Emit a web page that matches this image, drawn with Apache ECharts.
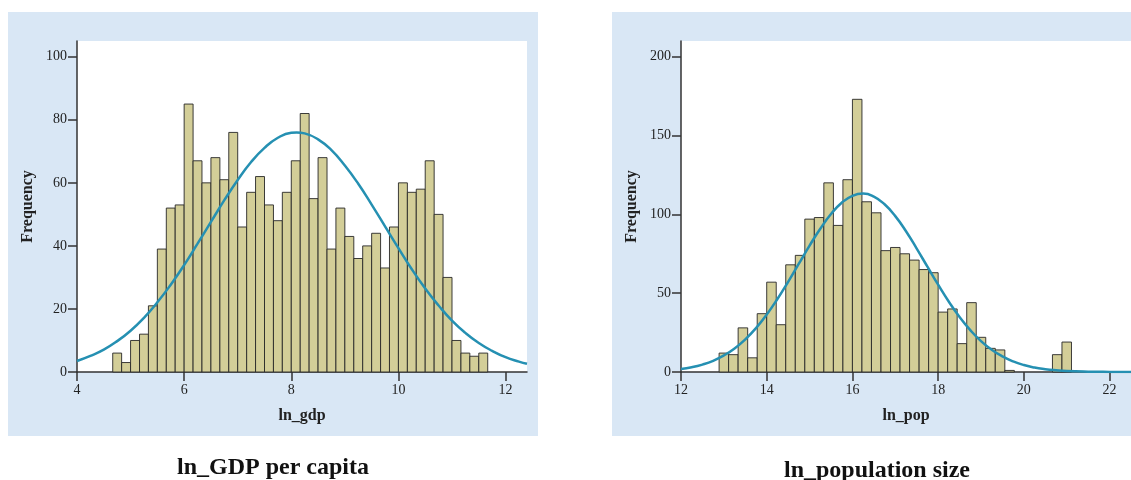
<!DOCTYPE html>
<html>
<head>
<meta charset="utf-8">
<script src="https://cdn.jsdelivr.net/npm/echarts@6/dist/echarts.min.js"></script>
<style>
  html, body { margin: 0; padding: 0; background: #ffffff; overflow: hidden; }
  #chart { width: 1131px; height: 480px; }
</style>
</head>
<body>
<div id="chart"></div>
<script>
// ---------- DATA ----------
// ln_gdp histogram: bin edges and counts
const gdpEdges = [4.667, 4.833, 5.000, 5.167, 5.333, 5.500, 5.667, 5.833, 6.000, 6.167,
  6.333, 6.500, 6.667, 6.833, 7.000, 7.167, 7.333, 7.500, 7.667, 7.833,
  8.000, 8.167, 8.333, 8.500, 8.667, 8.833, 9.000, 9.167, 9.333, 9.500,
  9.667, 9.833, 10.000, 10.167, 10.333, 10.500, 10.667, 10.833, 11.000, 11.167,
  11.333, 11.500, 11.667];
const gdpCounts = [6, 3, 10, 12, 21, 39, 52, 53, 85, 67,
  60, 68, 61, 76, 46, 57, 62, 53, 48, 57,
  67, 82, 55, 68, 39, 52, 43, 36, 40, 44,
  33, 46, 60, 57, 58, 67, 50, 30, 10, 6,
  5, 6];
// ln_gdp fitted curve
const gdpCurveX = [4, 4.25, 4.5, 4.75, 5, 5.25, 5.5, 5.75, 6, 6.25, 6.5, 6.75, 7, 7.25, 7.5, 7.75,
  8, 8.1, 8.25, 8.5, 8.75, 9, 9.25, 9.5, 9.75, 10, 10.25, 10.5, 10.75, 11, 11.25, 11.5, 11.75, 12, 12.25, 12.4];
const gdpCurveY = [3.5, 5.1, 7.1, 9.8, 13.1, 17.2, 22.1, 27.7, 33.9, 40.7, 47.6, 54.5, 60.9, 66.6, 71.1, 74.3,
  75.9, 76.0, 75.7, 73.8, 70.4, 65.5, 59.7, 53.1, 46.2, 39.3, 32.6, 26.5, 21.1, 16.3, 12.4, 9.2, 6.7, 4.7, 3.3, 2.6];

// ln_pop histogram: bin edges and counts
const popEdges = [12.889, 13.111, 13.333, 13.556, 13.778, 14.000, 14.222, 14.444, 14.667, 14.889,
  15.111, 15.333, 15.556, 15.778, 16.000, 16.222, 16.444, 16.667, 16.889, 17.111,
  17.333, 17.556, 17.778, 18.000, 18.222, 18.444, 18.667, 18.889, 19.111, 19.333,
  19.556, 19.778, 20.000, 20.222, 20.444, 20.667, 20.889, 21.111];
const popCounts = [12, 11, 28, 9, 37, 57, 30, 68, 74, 97,
  98, 120, 93, 122, 173, 108, 101, 77, 79, 75,
  71, 65, 63, 38, 40, 18, 44, 22, 15, 14,
  1, 0, 0, 0, 0, 11, 19];
// ln_pop fitted curve
const popCurveX = [12, 12.25, 12.5, 12.75, 13, 13.25, 13.5, 13.75, 14, 14.25, 14.5, 14.75, 15, 15.25,
  15.5, 15.75, 16, 16.25, 16.5, 16.75, 17, 17.25, 17.5, 17.75, 18, 18.25, 18.5, 18.75, 19, 19.25,
  19.5, 19.75, 20, 20.25, 20.5, 20.75, 21, 21.5, 22, 22.6];
const popCurveY = [1.9, 3.0, 4.7, 7.1, 10.5, 14.9, 20.7, 27.8, 36.4, 46.3, 57.2, 68.7, 80.2, 90.9,
  100.2, 107.4, 111.8, 113.2, 111.3, 106.4, 98.9, 89.3, 78.3, 66.8, 55.4, 44.6, 34.9, 26.6, 19.6, 14.1,
  9.9, 6.7, 4.4, 2.8, 1.8, 1.1, 0.6, 0.2, 0.06, 0.01];

// Text
const panelTitles = ['ln_GDP per capita', 'ln_population size'];
const xNames = ['ln_gdp', 'ln_pop'];
const yName = 'Frequency';

// ---------- BUILD ----------
const SERIF = "'Liberation Serif', 'Times New Roman', serif";
const BAR_FILL = '#D3CE98';
const BAR_STROKE = 'rgba(40,40,40,0.9)';
const CURVE = '#2590B2';
const PANEL = '#D9E7F5';
const AXIS = '#333333';

function histData(edges, counts) {
  return counts.map((c, i) => [edges[i], edges[i + 1], c]);
}
function pairs(xs, ys) { return xs.map((x, i) => [x, ys[i]]); }

function renderHist(params, api) {
  const v = api.value(2);
  if (!(v > 0)) return null;
  const p0 = api.coord([api.value(0), 0]);
  const p1 = api.coord([api.value(1), v]);
  return {
    type: 'rect',
    shape: { x: p0[0], y: p1[1], width: p1[0] - p0[0], height: p0[1] - p1[1] },
    style: { fill: BAR_FILL, stroke: BAR_STROKE, lineWidth: 1 }
  };
}

function xAxisCfg(gridIndex, min, max, name) {
  return {
    type: 'value', gridIndex, min, max, interval: 2,
    name, nameLocation: 'middle', nameGap: 36,
    nameTextStyle: { fontFamily: SERIF, fontWeight: 'bold', fontSize: 16, color: '#222' },
    axisLine: { show: true, onZero: false, lineStyle: { color: AXIS, width: 1.5 } },
    axisTick: { show: true, length: 9, lineStyle: { color: AXIS, width: 1.5 } },
    axisLabel: { fontFamily: SERIF, fontSize: 14, color: '#222', margin: 11, showMaxLabel: false },
    splitLine: { show: false }
  };
}
function yAxisCfg(gridIndex, max, interval) {
  return {
    type: 'value', gridIndex, min: 0, max, interval,
    name: yName, nameLocation: 'middle', nameGap: 41,
    nameTextStyle: { fontFamily: SERIF, fontWeight: 'bold', fontSize: 16, color: '#222' },
    axisLine: { show: true, lineStyle: { color: AXIS, width: 1.5 } },
    axisTick: { show: true, length: 9, lineStyle: { color: AXIS, width: 1.5 } },
    axisLabel: { fontFamily: SERIF, fontSize: 14, color: '#222', margin: 10, showMaxLabel: false },
    splitLine: { show: false }
  };
}

const chart = echarts.init(document.getElementById('chart'), null, { renderer: 'canvas' });
chart.setOption({
  animation: false,
  backgroundColor: '#ffffff',
  graphic: [
    { type: 'rect', z: -10, shape: { x: 8, y: 12, width: 530, height: 424 }, style: { fill: PANEL } },
    { type: 'rect', z: -10, shape: { x: 612, y: 12, width: 530, height: 424 }, style: { fill: PANEL } },
    { type: 'text', x: 273, y: 468, style: { text: panelTitles[0], fontFamily: SERIF, fontWeight: 'bold', fontSize: 24, fill: '#111', align: 'center', verticalAlign: 'middle' } },
    { type: 'text', x: 877, y: 471, style: { text: panelTitles[1], fontFamily: SERIF, fontWeight: 'bold', fontSize: 24, fill: '#111', align: 'center', verticalAlign: 'middle' } }
  ],
  grid: [
    { left: 77, top: 41, width: 450, height: 331, show: true, backgroundColor: '#ffffff', borderWidth: 0 },
    { left: 681, top: 41, width: 450, height: 331, show: true, backgroundColor: '#ffffff', borderWidth: 0 }
  ],
  xAxis: [xAxisCfg(0, 4, 12.4, xNames[0]), xAxisCfg(1, 12, 22.5, xNames[1])],
  yAxis: [yAxisCfg(0, 105, 20), yAxisCfg(1, 210, 50)],
  series: [
    { type: 'custom', xAxisIndex: 0, yAxisIndex: 0, renderItem: renderHist,
      encode: { x: [0, 1], y: 2 }, data: histData(gdpEdges, gdpCounts), z: 2 },
    { type: 'line', xAxisIndex: 0, yAxisIndex: 0, data: pairs(gdpCurveX, gdpCurveY),
      smooth: true, showSymbol: false, lineStyle: { color: CURVE, width: 2.5 }, z: 3 },
    { type: 'custom', xAxisIndex: 1, yAxisIndex: 1, renderItem: renderHist,
      encode: { x: [0, 1], y: 2 }, data: histData(popEdges, popCounts), z: 2 },
    { type: 'line', xAxisIndex: 1, yAxisIndex: 1, data: pairs(popCurveX, popCurveY),
      smooth: true, showSymbol: false, clip: true, lineStyle: { color: CURVE, width: 2.5 }, z: 3 }
  ]
});
</script>
</body>
</html>
